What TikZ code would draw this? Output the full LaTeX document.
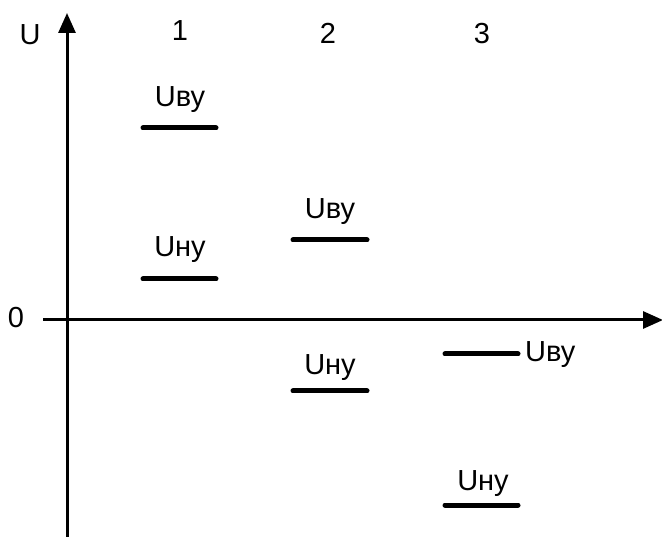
\documentclass[tikz,border=0pt]{standalone}
\usepackage{fontspec}
\setmainfont{Liberation Sans}
\usetikzlibrary{arrows.meta}
\begin{document}
\begin{tikzpicture}[x=1pt,y=-1pt,
  axis/.style={line width=3pt,-{Triangle[length=20pt,width=17pt]}},
  level/.style={line width=5pt,line cap=round},
  lbl/.style={font=\fontsize{29}{32}\selectfont,inner sep=0pt}]
\useasboundingbox (0,0) rectangle (662,537);
% axes
\coordinate (ybot) at (67,537);
\coordinate (ytop) at (67,13);
\coordinate (xl) at (43,320);
\coordinate (xr) at (663,320);
\draw[axis] (ybot) -- (ytop);
\draw[axis] (xl) -- (xr);
\node[lbl] (U) at (30,35) {U};
\node[lbl] (zero) at (16,318) {0};
\node[lbl] (c1) at (180,31) {1};
\node[lbl] (c2) at (328,33) {2};
\node[lbl] (c3) at (482,34) {3};
% column 1
\coordinate (a1) at (143,128); \coordinate (b1) at (216,128);
\draw[level] (a1) -- (b1);
\node[lbl] (l1) at (180,100) {Uву};
\coordinate (a2) at (143,279); \coordinate (b2) at (216,279);
\draw[level] (a2) -- (b2);
\node[lbl] (l2) at (180,250) {Uну};
% column 2
\coordinate (a3) at (293,240); \coordinate (b3) at (367,240);
\draw[level] (a3) -- (b3);
\node[lbl] (l3) at (330,212) {Uву};
\coordinate (a4) at (293,391); \coordinate (b4) at (367,391);
\draw[level] (a4) -- (b4);
\node[lbl] (l4) at (330,368) {Uну};
% column 3
\coordinate (a5) at (445,354); \coordinate (b5) at (518,354);
\draw[level] (a5) -- (b5);
\node[lbl,anchor=west] (l5) at (525,355) {Uву};
\coordinate (a6) at (445,505); \coordinate (b6) at (518,505);
\draw[level] (a6) -- (b6);
\node[lbl] (l6) at (483,484) {Uну};
\end{tikzpicture}
\end{document}
